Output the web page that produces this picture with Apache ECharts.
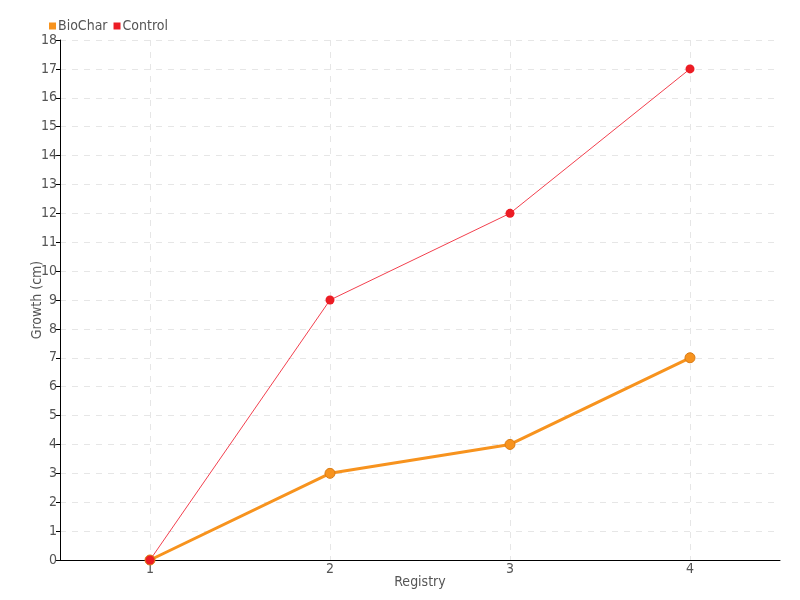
<!DOCTYPE html>
<html><head><meta charset="utf-8">
<script src="https://cdn.jsdelivr.net/npm/echarts@6/dist/echarts.min.js"></script>
<style>html,body{margin:0;padding:0;background:#fff}#c{width:800px;height:600px}</style>
</head><body><div id="c"></div>
<script>
const categories = ['1', '2', '3', '4'];
const bioChar = [0, 3, 4, 7];
const control = [0, 9, 12, 17];
const seriesNames = ['BioChar', 'Control'];

const font = '"Liberation Sans Narrow", "DejaVu Sans Condensed", sans-serif';
const chart = echarts.init(document.getElementById('c'));
chart.setOption({
  animation: false,
  textStyle: { fontFamily: font, color: '#555' },
  legend: {
    left: 44, top: 14, itemWidth: 7, itemHeight: 7, itemGap: 6,
    icon: 'rect',
    itemStyle: { borderWidth: 0 },
    textStyle: { fontFamily: font, fontSize: 14, color: '#555', padding: [0,0,0,-3] },
    data: seriesNames
  },
  grid: { left: 60, right: 20, top: 40, bottom: 40 },
  xAxis: {
    type: 'category', data: categories, boundaryGap: true,
    name: 'Registry', nameLocation: 'middle', nameGap: 15, nameMoveOverlap: false,
    nameTextStyle: { fontFamily: font, fontSize: 14, color: '#555', verticalAlign: 'top' },
    axisLine: { lineStyle: { color: '#000' } },
    axisTick: { alignWithLabel: true, length: 4, lineStyle: { color: '#000' } },
    axisLabel: { fontFamily: font, fontSize: 14, color: '#555', margin: 2 },
    splitLine: { show: true, alignWithLabel: true, lineStyle: { color: '#e6e6e6', type: [6, 6] } }
  },
  yAxis: {
    type: 'value', min: 0, max: 18, interval: 1,
    name: 'Growth (cm)', nameLocation: 'middle', nameGap: 16, nameMoveOverlap: false,
    nameTextStyle: { fontFamily: font, fontSize: 14, color: '#555', verticalAlign: 'bottom' },
    axisLine: { show: true, lineStyle: { color: '#000' } },
    axisTick: { show: true, length: 4, lineStyle: { color: '#000' } },
    axisLabel: { fontFamily: font, fontSize: 14, color: '#555', margin: 3 },
    splitLine: { show: true, lineStyle: { color: '#e6e6e6', type: [6, 6] } }
  },
  series: [
    {
      name: seriesNames[0], type: 'line', data: bioChar,
      symbol: 'circle', symbolSize: 10,
      itemStyle: { color: '#f7931e', borderColor: '#d87a14', borderWidth: 1 },
      lineStyle: { color: '#f7931e', width: 3 }
    },
    {
      name: seriesNames[1], type: 'line', data: control,
      symbol: 'circle', symbolSize: 9,
      itemStyle: { color: '#ec1c24' },
      lineStyle: { color: '#f2404e', width: 1 }
    }
  ]
});
</script></body></html>
